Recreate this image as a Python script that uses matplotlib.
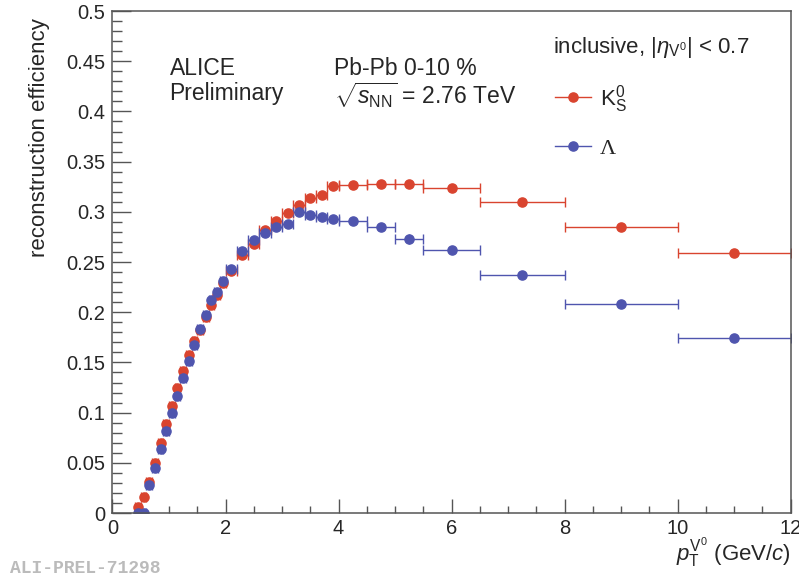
import numpy as np
import matplotlib
matplotlib.use('Agg')
import matplotlib.pyplot as plt
from matplotlib.lines import Line2D
from matplotlib.ticker import MultipleLocator, FuncFormatter

plt.rcParams['font.family'] = ['Liberation Sans', 'DejaVu Sans']
plt.rcParams['mathtext.fontset'] = 'custom'
plt.rcParams['mathtext.rm'] = 'Liberation Sans'
plt.rcParams['mathtext.it'] = 'Liberation Sans:italic'
plt.rcParams['mathtext.bf'] = 'Liberation Sans:bold'

# pT bin centres and half widths (GeV/c)
pt = [0.45, 0.55, 0.65, 0.75, 0.85, 0.95, 1.05, 1.15, 1.25, 1.35, 1.45, 1.55, 1.65, 1.75, 1.85, 1.95,
      2.1, 2.3, 2.5, 2.7, 2.9, 3.1, 3.3, 3.5, 3.7, 3.9,
      4.25, 4.75, 5.25, 6.0, 7.25, 9.0, 11.0]
pt_halfwidth = [0.05] * 16 + [0.1] * 10 + [0.25, 0.25, 0.25, 0.5, 0.75, 1.0, 1.0]

# reconstruction efficiency, K0S
k0s_eff = [0.006, 0.016, 0.031, 0.050, 0.070, 0.089, 0.107, 0.125, 0.141, 0.157, 0.171, 0.182, 0.195, 0.207, 0.217, 0.229,
           0.241, 0.2575, 0.2675, 0.282, 0.291, 0.299, 0.307, 0.314, 0.317, 0.3255,
           0.327, 0.328, 0.328, 0.324, 0.310, 0.285, 0.259]
k0s_err = [0.001] * 26 + [0.001, 0.001, 0.002, 0.002, 0.002, 0.003, 0.004]

# reconstruction efficiency, Lambda
lam_eff = [0.0, 0.0, 0.028, 0.045, 0.064, 0.082, 0.100, 0.117, 0.134, 0.151, 0.167, 0.183, 0.197, 0.212, 0.220, 0.231,
           0.243, 0.261, 0.2715, 0.279, 0.285, 0.288, 0.2995, 0.297, 0.295, 0.293,
           0.291, 0.285, 0.273, 0.262, 0.237, 0.208, 0.1745]
lam_err = [0.001] * 26 + [0.001, 0.002, 0.005, 0.002, 0.002, 0.002, 0.003]

red = '#D9442F'
blue = '#4F55AE'
txt = '#262626'

fig = plt.figure(figsize=(7.99, 5.81), dpi=100)
ax = fig.add_axes([0.1408, 0.117, 0.8486, 0.864])

for eff, err, col in [(k0s_eff, k0s_err, red), (lam_eff, lam_err, blue)]:
    ax.errorbar(pt, eff, xerr=pt_halfwidth, fmt='none', ecolor=col, elinewidth=1.0,
                capsize=3.5, capthick=1.0)
    ax.errorbar(pt, eff, yerr=err, fmt='o', color=col, ms=6.6, elinewidth=1.0, capsize=0)

ax.set_xlim(0, 12)
ax.set_ylim(0, 0.5)
ax.xaxis.set_major_locator(MultipleLocator(2))
ax.xaxis.set_minor_locator(MultipleLocator(0.5))
ax.yaxis.set_major_locator(MultipleLocator(0.05))
ax.yaxis.set_minor_locator(MultipleLocator(0.01))
ax.yaxis.set_major_formatter(FuncFormatter(lambda v, p: f'{v:g}'))
ax.tick_params(axis='both', which='both', direction='in', colors='#555555', labelcolor=txt,
               labelsize=14.5, width=1.0)
ax.tick_params(axis='x', which='major', length=10, pad=4)
ax.tick_params(axis='x', which='minor', length=5)
ax.tick_params(axis='y', which='major', length=14, pad=5)
ax.tick_params(axis='y', which='minor', length=7)
for s in ax.spines.values():
    s.set_color('#555555')
    s.set_linewidth(1.1)

ax.set_ylabel('reconstruction efficiency', fontsize=16, color=txt, loc='top')
ax.yaxis.set_label_coords(-0.092, 0.985)
ax.set_xlabel(r'$p_{\mathrm{T}}^{\mathrm{V}^{0}}$ (GeV/$c$)', fontsize=16, color=txt, loc='right')
ax.xaxis.set_label_coords(1.0, -0.045)

ax.text(0.084, 0.8725, 'ALICE', transform=ax.transAxes, fontsize=16.5, color=txt, va='baseline')
ax.text(0.084, 0.823, 'Preliminary', transform=ax.transAxes, fontsize=16.5, color=txt, va='baseline')
ax.text(0.327, 0.8725, 'Pb-Pb 0-10 %', transform=ax.transAxes, fontsize=16.5, color=txt, va='baseline')
ax.text(0.327, 0.815, r'$\sqrt{s_{\mathrm{NN}}}$ = 2.76 TeV', transform=ax.transAxes, fontsize=16.5,
        color=txt, va='baseline')
ax.text(0.649, 0.916, r'inclusive, $|\eta_{\mathrm{V}^{0}}|$ < 0.7', transform=ax.transAxes,
        fontsize=16, color=txt, va='baseline')

handles = [Line2D([], [], color=red, marker='o', ms=6.6, lw=1.0),
           Line2D([], [], color=blue, marker='o', ms=6.6, lw=1.0)]
leg = ax.legend(handles, [r'K$^{0}_{\mathrm{S}}$', 'Λ'], loc='upper left',
                bbox_to_anchor=(0.653, 0.857), frameon=False, fontsize=16, handlelength=1.6,
                handletextpad=0.4, labelspacing=1.05, borderpad=0, borderaxespad=0)
for t in leg.get_texts():
    t.set_color(txt)
leg.get_texts()[1].set_family('Liberation Serif')

fig.text(0.012, 0.014, 'ALI-PREL-71298', fontsize=13, family='Liberation Mono', weight='bold',
         color='#BBBBBB', va='baseline')

fig.savefig('out.png', dpi=100)
